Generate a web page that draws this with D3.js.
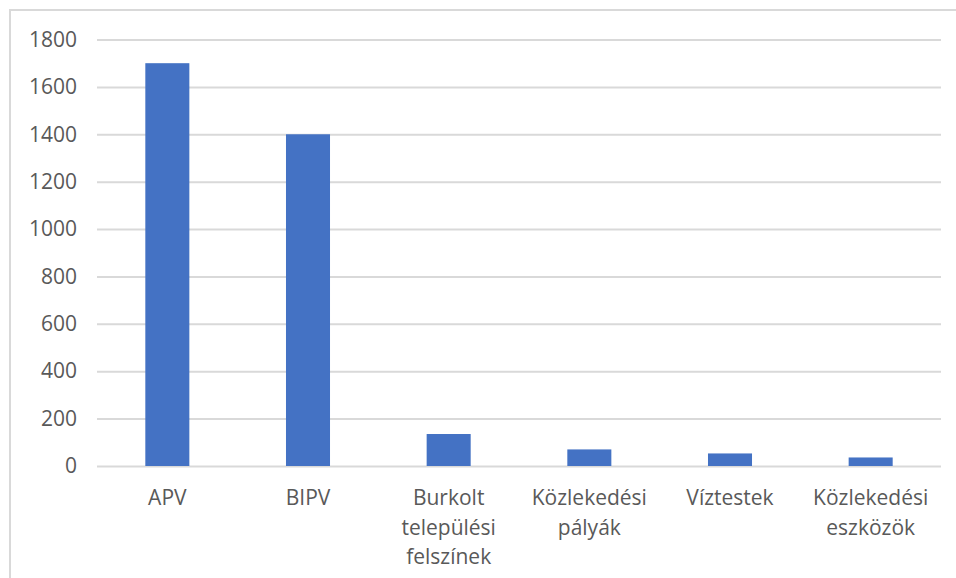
<!DOCTYPE html>
<html>
<head>
<meta charset="utf-8">
<script src="https://cdn.jsdelivr.net/npm/d3@7"></script>
<style>
  html, body { margin: 0; padding: 0; background: #fff; }
  svg { display: block; }
  text { font-family: "Open Sans", "Noto Sans", sans-serif; fill: #595959; }
</style>
</head>
<body>
<svg id="chart" width="956" height="578"></svg>
<script>
// Categories (each entry is the list of lines of its axis label)
const categories = [
  ["APV"],
  ["BIPV"],
  ["Burkolt", "települési", "felszínek"],
  ["Közlekedési", "pályák"],
  ["Víztestek"],
  ["Közlekedési", "eszközök"]
];
const values = [1700, 1400, 135, 70, 53, 36];
const yTicks = [0, 200, 400, 600, 800, 1000, 1200, 1400, 1600, 1800];

const W = 956, H = 578;
const margin = { left: 97, right: 15, top: 39.5, bottom: 112 };
const svg = d3.select("#chart");

// Chart area frame (top and left edges visible)
svg.append("path")
  .attr("d", `M10,${H + 2} L10,10 L${W + 2},10`)
  .attr("fill", "none")
  .attr("stroke", "#d9d9d9")
  .attr("stroke-width", 2);

const x = d3.scaleBand()
  .domain(categories.map((d, i) => i))
  .range([margin.left, W - margin.right])
  .paddingInner(0.687)
  .paddingOuter(0.3435);

const y = d3.scaleLinear()
  .domain([0, 1800])
  .range([H - margin.bottom, margin.top]);

// Horizontal gridlines
const yAxis = d3.axisLeft(y)
  .tickValues(yTicks)
  .tickSize(-(W - margin.right - margin.left))
  .tickPadding(20)
  .tickFormat(d3.format("d"));

const gy = svg.append("g")
  .attr("transform", `translate(${margin.left},0)`)
  .call(yAxis);
gy.select(".domain").remove();
gy.selectAll(".tick line").attr("stroke", "#d9d9d9").attr("stroke-width", 2);
gy.selectAll(".tick text")
  .attr("font-size", 21)
  .attr("fill", "#595959")
  .style("font-family", "'Open Sans', sans-serif");

// Bars
svg.append("g")
  .selectAll("rect")
  .data(values)
  .join("rect")
  .attr("x", (d, i) => x(i))
  .attr("y", d => y(d))
  .attr("width", x.bandwidth())
  .attr("height", d => y(0) - y(d))
  .attr("fill", "#4472c4");

// Category labels
const lineH = 29.5;
const labels = svg.append("g");
categories.forEach((lines, i) => {
  const cx = x(i) + x.bandwidth() / 2;
  const t = labels.append("text")
    .attr("text-anchor", "middle")
    .attr("font-size", 21)
    .attr("x", cx)
    .attr("y", y(0) + 39);
  lines.forEach((ln, j) => {
    t.append("tspan")
      .attr("x", cx)
      .attr("dy", j === 0 ? 0 : lineH)
      .text(ln);
  });
});
</script>
</body>
</html>
